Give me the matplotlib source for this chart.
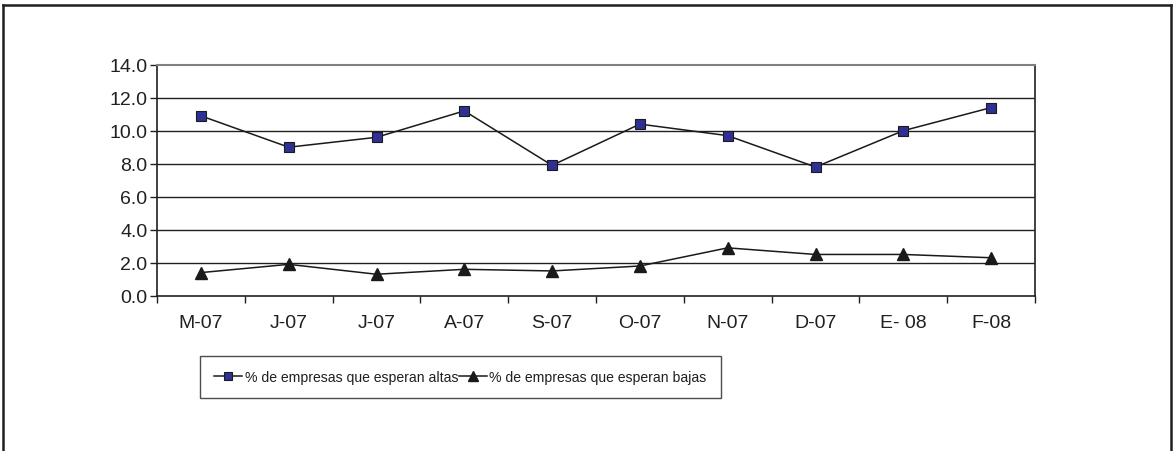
import matplotlib
matplotlib.use("Agg")
import matplotlib.pyplot as plt
from matplotlib import font_manager
from matplotlib.lines import Line2D

categories = ["M-07", "J-07", "J-07", "A-07", "S-07", "O-07", "N-07", "D-07", "E- 08", "F-08"]
altas = [10.9, 9.0, 9.6, 11.2, 7.9, 10.4, 9.7, 7.8, 10.0, 11.4]
bajas = [1.4, 1.9, 1.3, 1.6, 1.5, 1.8, 2.9, 2.5, 2.5, 2.3]
yticks = [0, 2, 4, 6, 8, 10, 12, 14]
label_altas = "% de empresas que esperan altas"
label_bajas = "% de empresas que esperan bajas"

names = {f.name for f in font_manager.fontManager.ttflist}
base_font = "Liberation Sans" if "Liberation Sans" in names else "DejaVu Sans"

plt.rcParams["font.family"] = [base_font, "DejaVu Sans"]

W, H = 1173, 452
fig = plt.figure(figsize=(W / 100, H / 100), dpi=100)
ax = fig.add_axes([157 / W, 1 - 296.7 / H, (1035 - 157) / W, (296.7 - 65.7) / H])

x = list(range(len(categories)))
ax.plot(x, altas, color="#1a1a1a", lw=1.1, marker="s", markersize=6.5,
        markerfacecolor="#2e3192", markeredgecolor="#1a1a1a", markeredgewidth=0.8,
        label=label_altas, zorder=3)
ax.plot(x, bajas, color="#1a1a1a", lw=1.1, marker="^", markersize=8.5,
        markerfacecolor="#1a1a1a", markeredgecolor="#1a1a1a",
        label=label_bajas, zorder=3)

ax.set_xlim(-0.5, len(categories) - 0.5)
ax.set_ylim(0, 14)
ax.set_yticks(yticks)
ax.set_yticklabels([f"{v:.1f}" for v in yticks])
ax.set_xticks([i - 0.5 for i in range(len(categories) + 1)])
ax.set_xticklabels([])
ax.set_xticks(x, minor=True)
ax.set_xticklabels(categories, minor=True)
ax.tick_params(axis="x", which="minor", length=0, pad=13, labelsize=14, colors="#231f20")
ax.tick_params(axis="x", which="major", length=5, width=1, direction="out", color="#231f20")
ax.tick_params(axis="y", length=5, width=1, direction="out", labelsize=14, pad=2,
               colors="#231f20")

for yv in yticks[1:-1]:
    ax.axhline(yv, color="#231f20", lw=1.0, zorder=1)
ax.spines["top"].set_color("#808080")
ax.spines["top"].set_linewidth(1.5)
for s in ["left", "bottom", "right"]:
    ax.spines[s].set_color("#231f20")
    ax.spines[s].set_linewidth(1.2)

leg = fig.legend(loc="center", bbox_to_anchor=(460.5 / W, 1 - 378 / H), ncol=2,
                 frameon=True, fancybox=False, prop={"size": 10.1}, handlelength=2.0,
                 handletextpad=0.2, columnspacing=0.0, borderpad=1.0, markerscale=0.9)
leg.get_frame().set_edgecolor("#231f20")
leg.get_frame().set_linewidth(1.0)
for t in leg.get_texts():
    t.set_color("#231f20")

# outer frame
def px(xp, yp):
    return xp / W, 1 - yp / H
fc = "#231f20"
for (x0, y0), (x1, y1) in [((3, 460), (3, 6)), ((3, 6), (1171, 6)), ((1171, 6), (1171, 460))]:
    a, b = px(x0, y0)
    c, d = px(x1, y1)
    fig.add_artist(Line2D([a, c], [b, d], transform=fig.transFigure, color=fc, lw=1.8))

fig.savefig("out.png", dpi=100)
